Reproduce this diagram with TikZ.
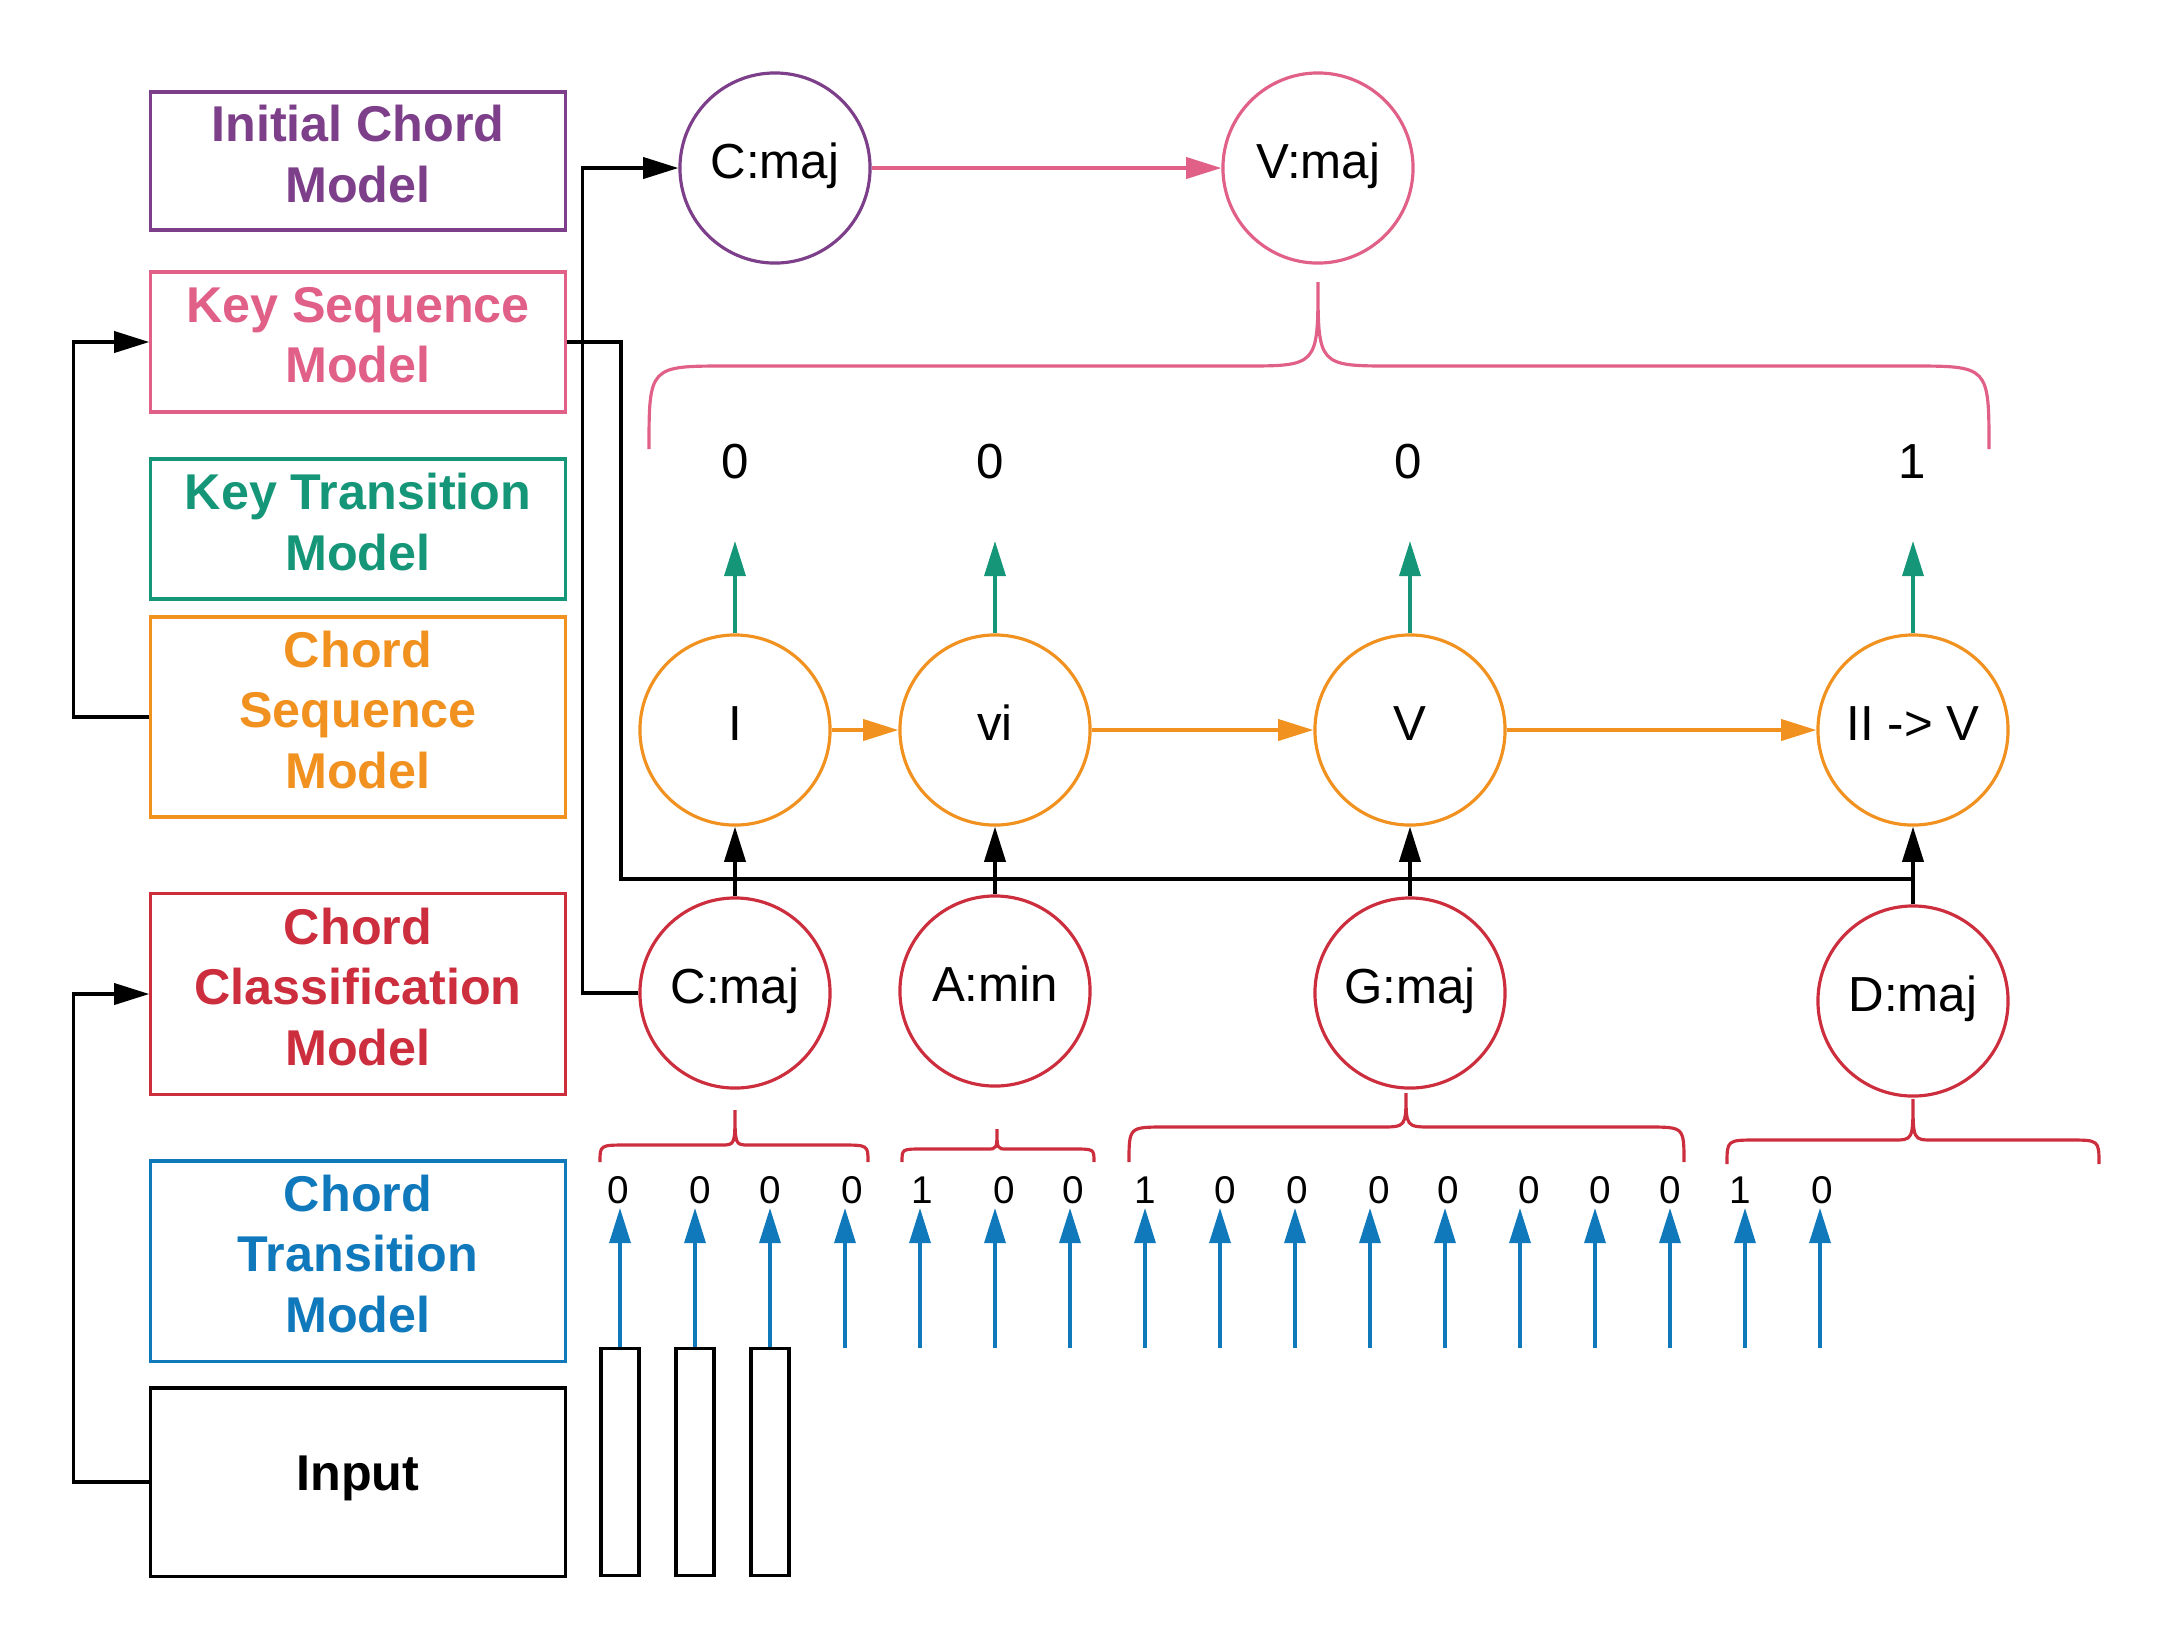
\documentclass[tikz,border=0pt]{standalone}
\usepackage{fontspec}
\setmainfont{Liberation Sans}
\usetikzlibrary{arrows.meta}
\definecolor{cpurple}{RGB}{125,62,138}
\definecolor{cpink}{RGB}{224,96,136}
\definecolor{cgreen}{RGB}{22,150,120}
\definecolor{corange}{RGB}{240,145,32}
\definecolor{cred}{RGB}{204,46,62}
\definecolor{cblue}{RGB}{16,121,188}
% #1 style, #2 xl, #3 xr, #4 xt, #5 yend, #6 yh, #7 ytip, #8 corner w, #9 tip w
\newcommand{\mybrace}[9]{%
  \draw[#1] (#2,#5) .. controls (#2,#6) .. ({#2+#8},#6) -- ({#4-#9},#6)
    .. controls (#4,#6) .. (#4,#7) .. controls (#4,#6) .. ({#4+#9},#6)
    -- ({#3-#8},#6) .. controls (#3,#6) .. (#3,#5);}
\tikzset{
  mbox/.style={draw=#1, line width=0.9pt, minimum width=4.14cm, inner sep=0pt},
  btext/.style={text=#1, align=center, font=\bfseries\fontsize{14.3}{17.2}\selectfont,
    inner sep=0pt, yshift=0.07cm},
  circ/.style={circle, draw=#1, line width=0.9pt, minimum size=1.9cm,
    inner sep=0pt, text height=10pt, text depth=4pt, font=\fontsize{14}{17}\selectfont},
  arr/.style={-{Triangle[length=10pt,width=6pt]}, line width=1pt},
  bline/.style={line width=1pt, black},
  bracestyle/.style={line width=0.9pt, draw=#1},
  small/.style={font=\fontsize{11}{12}\selectfont, inner sep=0pt},
  keynum/.style={font=\fontsize{14}{16}\selectfont, inner sep=0pt},
}
\begin{document}
\begin{tikzpicture}[x=0.01cm, y=-0.01cm]
\useasboundingbox (0,0) rectangle (2175,1650);

% model boxes
\node[mbox=cpurple, minimum height=1.38cm] (init) at (358,161) {};
\node[mbox=cpink, minimum height=1.40cm] (keyseq) at (358,342) {};
\node[mbox=cgreen, minimum height=1.40cm] (keytrans) at (358,529) {};
\node[mbox=corange, minimum height=2.00cm] (chordseq) at (358,717) {};
\node[mbox=cred, minimum height=2.01cm] (chordclass) at (358,994) {};
\node[mbox=cblue, minimum height=2.00cm] (chordtrans) at (358,1261) {};
\node[mbox=black, minimum height=1.88cm] (input) at (358,1482) {};
\node[btext=cpurple] (initT) at (init) {Initial Chord\\Model};
\node[btext=cpink] (keyseqT) at (keyseq) {Key Sequence\\Model};
\node[btext=cgreen] (keytransT) at (keytrans) {Key Transition\\Model};
\node[btext=corange] (chordseqT) at (chordseq) {Chord\\Sequence\\Model};
\node[btext=cred] (chordclassT) at (chordclass) {Chord\\Classification\\Model};
\node[btext=cblue] (chordtransT) at (chordtrans) {Chord\\Transition\\Model};
\node[btext=black, yshift=-0.03cm] (inputT) at (input) {Input};

% circles
\node[circ=cpurple] (cmajt) at (775,168) {C:maj};
\node[circ=cpink] (vmaj) at (1318,168) {V:maj};
\node[circ=corange] (I) at (735,730) {I};
\node[circ=corange] (vi) at (995,730) {vi};
\node[circ=corange] (V) at (1410,730) {V};
\node[circ=corange] (IIV) at (1913,730) {II -> V};
\node[circ=cred] (cmajb) at (735,993) {C:maj};
\node[circ=cred] (amin) at (995,991) {A:min};
\node[circ=cred] (gmaj) at (1410,993) {G:maj};
\node[circ=cred] (dmaj) at (1913,1001) {D:maj};

% key-level outputs
\node[keynum] (k1) at (735,462) {0};
\node[keynum] (k2) at (990,462) {0};
\node[keynum] (k3) at (1408,462) {0};
\node[keynum] (k4) at (1912,462) {1};
\coordinate (g1) at (735,541);
\coordinate (g2) at (995,541);
\coordinate (g3) at (1410,541);
\coordinate (g4) at (1913,541);
\draw[arr, cgreen] (I.north) -- (g1);
\draw[arr, cgreen] (vi.north) -- (g2);
\draw[arr, cgreen] (V.north) -- (g3);
\draw[arr, cgreen] (IIV.north) -- (g4);

% arrows between circles
\draw[arr, cpink] (cmajt) -- (vmaj);
\draw[arr, corange] (I) -- (vi);
\draw[arr, corange] (vi) -- (V);
\draw[arr, corange] (V) -- (IIV);

% braces
\mybrace{bracestyle=cpink}{649}{1989}{1318}{449}{366}{282}{78}{75}
\mybrace{bracestyle=cred}{600}{868}{735}{1162}{1145}{1110}{27}{14}
\mybrace{bracestyle=cred}{902}{1094}{997}{1162}{1149}{1129}{20}{10}
\mybrace{bracestyle=cred}{1129}{1684}{1406}{1162}{1127}{1093}{36}{26}
\mybrace{bracestyle=cred}{1727}{2099}{1913}{1164}{1140}{1099}{30}{20}

% key sequence line
\coordinate (ks1) at (621,342);
\coordinate (ks2) at (621,879);
\coordinate (ks3) at (1913,879);
\draw[bline, line width=1.2pt] (keyseq.east) -- (ks1) -- (ks2) -- (ks3);

% chord -> roman numeral arrows
\draw[arr] (cmajb.north) -- (I.south);
\draw[arr] (amin.north) -- (vi.south);
\draw[arr] (gmaj.north) -- (V.south);
\draw[arr] (dmaj.north) -- (IIV.south);

% initial chord line
\draw[arr] (cmajb.west) -- ++(-56,0) |- (cmajt.west);

% left loops
\draw[arr] (chordseq.west) -- ++(-76,0) |- (keyseq.west);
\draw[arr] (input.west) -- ++(-76,0) |- (chordclass.west);

% input bars
\node[draw, line width=1pt, minimum width=0.38cm, minimum height=2.27cm, inner sep=0pt] (bar1) at (620,1462) {};
\node[draw, line width=1pt, minimum width=0.38cm, minimum height=2.27cm, inner sep=0pt] (bar2) at (695,1462) {};
\node[draw, line width=1pt, minimum width=0.38cm, minimum height=2.27cm, inner sep=0pt] (bar3) at (770,1462) {};

% chord transition outputs
\foreach \v/\nx [count=\i from 0] in {0/618,0/700,0/770,0/852,1/922,0/1004,0/1073,1/1145,0/1225,0/1297,0/1379,0/1448,0/1529,0/1600,0/1670,1/1740,0/1822}{
  \node[small] (n\i) at (\nx,1190) {\v};
  \pgfmathsetmacro{\ax}{620+75*\i}
  \coordinate (t\i) at (\ax,1208);
  \coordinate (b\i) at (\ax,1348);
}
\draw[arr, cblue, line width=0.9pt] (bar1.north) -- (t0);
\draw[arr, cblue, line width=0.9pt] (bar2.north) -- (t1);
\draw[arr, cblue, line width=0.9pt] (bar3.north) -- (t2);
\foreach \i in {3,...,16}{
  \draw[arr, cblue, line width=0.9pt] (b\i) -- (t\i);
}
\end{tikzpicture}
\end{document}
